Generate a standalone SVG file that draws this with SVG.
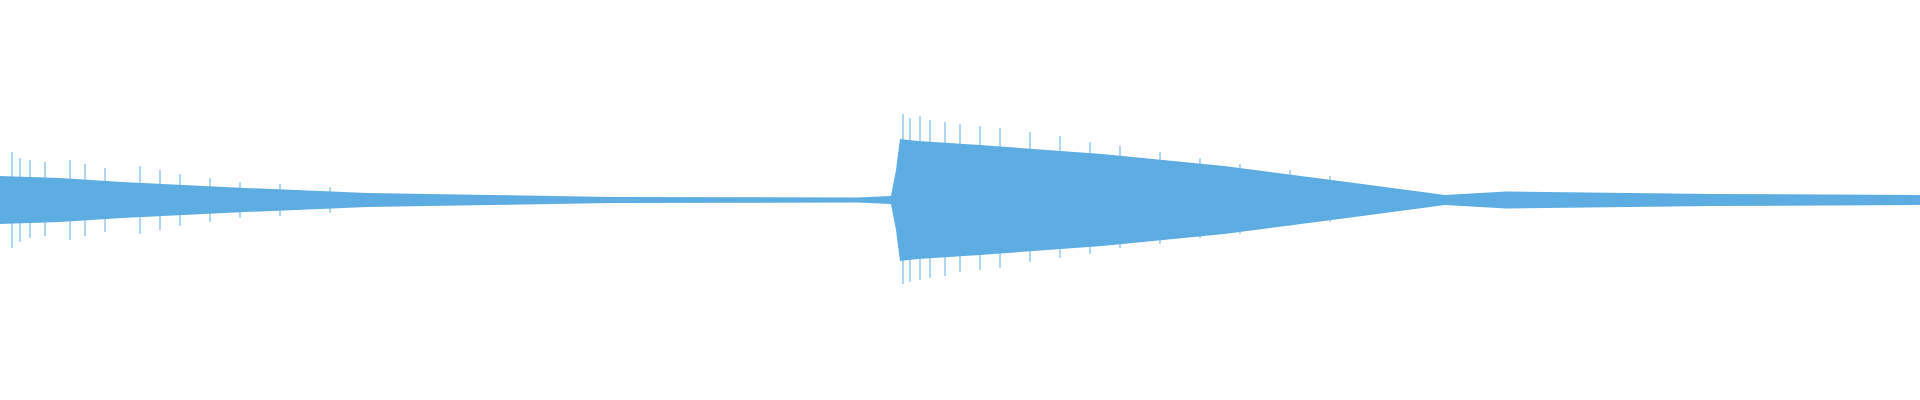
<svg xmlns="http://www.w3.org/2000/svg" width="1920" height="400" viewBox="0 0 1920 400">
<style>.w{fill:#5DADE2}.s{stroke:#5DADE2;stroke-width:1;fill:none}</style>
<rect width="1920" height="400" fill="#fff"/>
<g id="waveform">
<path class="w" d="M0,176 L60,178 L122,182 L245,188 L367,193 L490,195 L612,197 L857,197.5 L891,196 L896,170 L900,139 L918,141 L980,145 L1102,154 L1224,166 L1347,182 L1445,195 L1506,191.5 L1714,194 L1920,195 L1920,205 L1714,206 L1506,208.5 L1445,205 L1347,218 L1224,234 L1102,246 L980,255 L918,259 L900,261 L896,230 L891,204 L857,202.5 L612,203 L490,205 L367,207 L245,212 L122,218 L60,222 L0,224 Z"/>
<path class="s" d="M12,152V248M20,158V242M30,160V238M45,162V236M70,160V240M85,164V236M105,168V232M140,166V234M160,170V230M180,174V226M210,178V222M240,182V218M280,184V216M330,187V213M903,114V284M910,118V282M920,116V280M930,120V278M945,122V276M960,124V272M980,126V270M1000,128V268M1030,132V262M1060,136V258M1090,142V254M1120,146V248M1160,152V244M1200,158V238M1240,164V234M1290,170V226M1330,176V222"/>
</g>
</svg>
